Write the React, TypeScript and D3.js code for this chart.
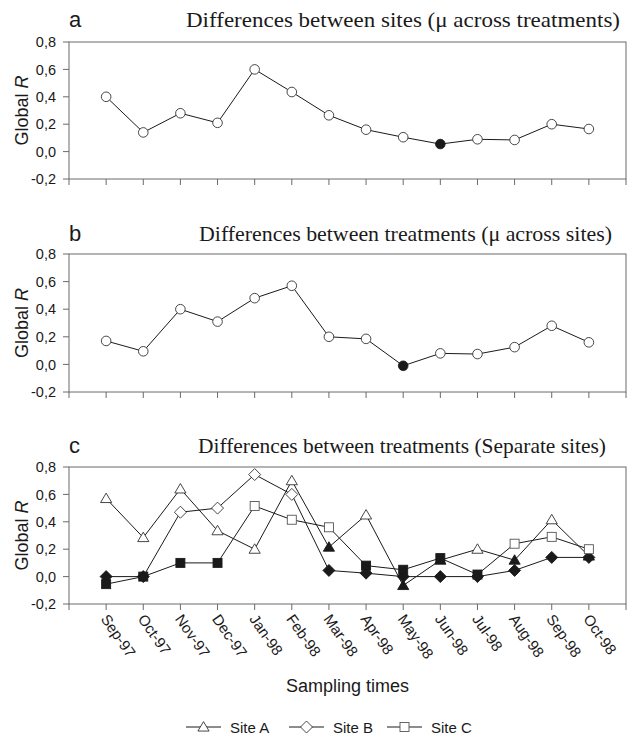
import React from "react";
import * as d3 from "d3";

const categories = ["Sep-97","Oct-97","Nov-97","Dec-97","Jan-98","Feb-98","Mar-98","Apr-98","May-98","Jun-98","Jul-98","Aug-98","Sep-98","Oct-98"];
const yTicks = [-0.2, 0, 0.2, 0.4, 0.6, 0.8];
const yTickLabels = ["-0,2","0,0","0,2","0,4","0,6","0,8"];

const sitesR = [0.40,0.14,0.28,0.21,0.60,0.435,0.265,0.16,0.105,0.055,0.09,0.085,0.20,0.165];
const sitesFilled = [false,false,false,false,false,false,false,false,false,true,false,false,false,false];

const treatR = [0.17,0.095,0.40,0.31,0.48,0.57,0.20,0.185,-0.01,0.08,0.075,0.125,0.28,0.16];
const treatFilled = [false,false,false,false,false,false,false,false,true,false,false,false,false,false];

const siteA = [0.57,0.285,0.64,0.335,0.20,0.70,0.215,0.45,-0.065,0.12,0.20,0.12,0.415,0.15];
const siteAFilled = [false,false,false,false,false,false,true,false,true,true,false,true,false,true];
const siteB = [0.0,0.0,0.47,0.50,0.745,0.60,0.045,0.025,0.0,0.0,0.0,0.045,0.14,0.14];
const siteBFilled = [true,true,false,false,false,false,true,true,true,true,true,true,true,true];
const siteC = [-0.055,0.0,0.10,0.10,0.515,0.415,0.36,0.08,0.05,0.135,0.015,0.24,0.29,0.20];
const siteCFilled = [true,true,true,true,false,false,false,true,true,true,true,false,false,false];

const panelTitles = [
  "Differences between sites (\u03bc across treatments)",
  "Differences between treatments (\u03bc across sites)",
  "Differences between treatments (Separate sites)",
];
const panelLetters = ["a","b","c"];
const legendLabels = ["Site A","Site B","Site C"];

const SANS = "'Liberation Sans', Arial, Helvetica, sans-serif";
const SERIF = "'Liberation Serif', 'Times New Roman', serif";
const FRAME = "#6a6a6a";
const INK = "#1a1a1a";

const x = d3.scaleLinear().domain([0, 15]).range([69, 626]);

type Shape = "circle" | "triangle" | "diamond" | "square";

function Marker({ shape, cx, cy, filled }: { shape: Shape; cx: number; cy: number; filled: boolean }) {
  const fill = filled ? INK : "#fff";
  const stroke = filled ? INK : "#333";
  if (shape === "circle") return <circle cx={cx} cy={cy} r={4.8} fill={fill} stroke={stroke} strokeWidth={0.9} />;
  if (shape === "triangle") {
    const w = 5.6, h = 5.4;
    return <polygon points={`${cx},${cy - h} ${cx + w},${cy + h * 0.75} ${cx - w},${cy + h * 0.75}`} fill={fill} stroke={stroke} strokeWidth={0.9} />;
  }
  if (shape === "diamond") {
    const r = 6;
    return <polygon points={`${cx},${cy - r} ${cx + r},${cy} ${cx},${cy + r} ${cx - r},${cy}`} fill={fill} stroke={stroke} strokeWidth={0.9} />;
  }
  const s = 4.5;
  return <rect x={cx - s} y={cy - s} width={2 * s} height={2 * s} fill={fill} stroke={filled ? INK : "#555"} strokeWidth={0.9} />;
}

type Series = { values: number[]; filled: boolean[]; shape: Shape };

function Panel({ idx, top, bottom, series, titleX0, titleX1, baseline, showLabels }: {
  idx: number; top: number; bottom: number; series: Series[]; titleX0: number; titleX1: number; baseline: number; showLabels: boolean;
}) {
  const y = d3.scaleLinear().domain([-0.2, 0.8]).range([bottom, top]);
  const line = d3.line<number>().x((_, i) => x(i + 1)).y((v) => y(v));
  const xl = x(0), xr = x(15);
  return (
    <g>
      <text x={69} y={baseline} fontFamily={SANS} fontSize={22} fill={INK}>{panelLetters[idx]}</text>
      <text x={titleX0} y={baseline} fontFamily={SERIF} fontSize={22} fill={INK} textLength={titleX1 - titleX0} lengthAdjust="spacingAndGlyphs">{panelTitles[idx]}</text>
      <rect x={xl} y={top} width={xr - xl} height={bottom - top} fill="none" stroke={FRAME} strokeWidth={1} />
      {yTicks.map((t, i) => (
        <g key={i}>
          <line x1={xl - 6} x2={xl} y1={y(t)} y2={y(t)} stroke={FRAME} />
          <text x={xl - 13} y={y(t)} dy="0.36em" textAnchor="end" fontFamily={SANS} fontSize={14.5} fill={INK}>{yTickLabels[i]}</text>
        </g>
      ))}
      {d3.range(0, 16).map((i) => (
        <line key={i} x1={x(i)} x2={x(i)} y1={bottom} y2={bottom + 6} stroke={FRAME} />
      ))}
      <text transform={`translate(28,${(top + bottom) / 2}) rotate(-90)`} textAnchor="middle" fontFamily={SANS} fontSize={18} fill={INK}>
        Global <tspan fontStyle="italic">R</tspan>
      </text>
      {series.map((s, si) => (
        <path key={"l" + si} d={line(s.values) || ""} fill="none" stroke={INK} strokeWidth={1} />
      ))}
      {series.map((s, si) => (
        <g key={"m" + si}>
          {s.values.map((v, i) => (
            <Marker key={i} shape={s.shape} cx={x(i + 1)} cy={y(v)} filled={s.filled[i]} />
          ))}
        </g>
      ))}
      {showLabels && categories.map((c, i) => (
        <text key={c} transform={`translate(${x(i + 1) - 6},${bottom + 15}) rotate(55)`} fontFamily={SANS} fontSize={15} fill={INK}>{c}</text>
      ))}
    </g>
  );
}

export default function App() {
  const legendItems: { shape: Shape; x0: number }[] = [
    { shape: "triangle", x0: 186 },
    { shape: "diamond", x0: 289 },
    { shape: "square", x0: 387 },
  ];
  return (
    <svg width={629} height={736} style={{ position: "absolute", left: 0, top: 0, background: "#fff" }}>
      <rect width={629} height={736} fill="#fff" />
      <Panel idx={0} top={42} bottom={179} baseline={27} titleX0={186} titleX1={620} showLabels={false}
        series={[{ values: sitesR, filled: sitesFilled, shape: "circle" }]} />
      <Panel idx={1} top={254} bottom={392} baseline={241} titleX0={199} titleX1={612} showLabels={false}
        series={[{ values: treatR, filled: treatFilled, shape: "circle" }]} />
      <Panel idx={2} top={467} bottom={604} baseline={453} titleX0={198} titleX1={606} showLabels={true}
        series={[
          { values: siteA, filled: siteAFilled, shape: "triangle" },
          { values: siteB, filled: siteBFilled, shape: "diamond" },
          { values: siteC, filled: siteCFilled, shape: "square" },
        ]} />
      <text x={(x(0) + x(15)) / 2} y={692} textAnchor="middle" fontFamily={SANS} fontSize={18} fill={INK}>Sampling times</text>
      {legendItems.map((it, i) => (
        <g key={i}>
          <line x1={it.x0} x2={it.x0 + 35} y1={727} y2={727} stroke={INK} strokeWidth={1} />
          <Marker shape={it.shape} cx={it.x0 + 17.5} cy={727} filled={false} />
          <text x={it.x0 + 44} y={732.5} fontFamily={SANS} fontSize={15} fill={INK}>{legendLabels[i]}</text>
        </g>
      ))}
    </svg>
  );
}
